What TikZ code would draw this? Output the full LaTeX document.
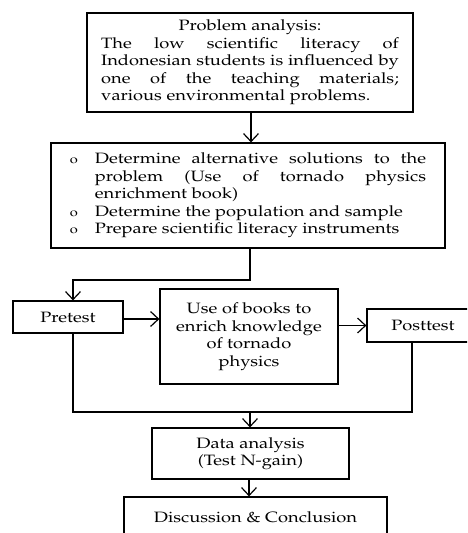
\documentclass[tikz,border=0pt]{standalone}
\usepackage[T1]{fontenc}
\renewcommand{\rmdefault}{ppl}
\usepackage{graphicx}
\usetikzlibrary{arrows.meta,calc}
\newcommand{\fsz}{\fontsize{15}{17.5}\selectfont}
\newcommand{\sx}[1]{\scalebox{1.22}[1]{#1}}
\newcommand{\bitem}[1]{\hangindent=20.5pt\hangafter=1\noindent\makebox[20.5pt][l]{\fontsize{12}{12}\selectfont o}#1\par}
\begin{document}
\begin{tikzpicture}[x=1pt,y=-1pt,line width=1.2pt,
  box/.style={draw,inner sep=0pt,align=center,font=\fsz},
  arr/.style={-{Straight Barb[length=8pt,width=15pt]}}]
\useasboundingbox (0,0) rectangle (467,533);
\clip (0,0) rectangle (467,533);
\node[box,minimum width=326pt,minimum height=99pt] (b1) at (250,62.5)
  {\sx{\parbox{244pt}{\fsz\centerline{Problem analysis:}The low scientific literacy of\linebreak Indonesian students is influenced by\linebreak one of the teaching materials;\linebreak various environmental problems.}}};
\node[box,minimum width=394pt,minimum height=105pt] (b2) at (248,195.5)
  {\sx{\parbox{292pt}{\fsz\bitem{Determine alternative solutions to the\linebreak problem (Use of tornado physics\linebreak enrichment book)}\bitem{Determine the population and sample}\bitem{Prepare scientific literacy instruments}}}};
\node[box,minimum width=110pt,minimum height=32pt] (pre) at (68,317) {\sx{Pretest}};
\node[box,minimum width=178pt,minimum height=95pt] (book) at (249,336.5)
  {\sx{\begin{tabular}{@{}c@{}}Use of books to\\enrich knowledge\\of tornado\\physics\end{tabular}}};
\node[box,minimum width=112pt,minimum height=33pt] (post) at (423,325.5) {\sx{Posttest}};
\node[box,minimum width=197pt,minimum height=51pt] (data) at (250.5,453.5)
  {\sx{\begin{tabular}{@{}c@{}}Data analysis\\(Test N-gain)\end{tabular}}};
\node[box,minimum width=263pt,minimum height=40pt] (disc) at (255.5,517) {\sx{Discussion \& Conclusion}};
\coordinate (j1) at (250,280);
\coordinate (j2) at (250,412);
\draw[arr] ([xshift=1pt]b1.south) -- ([xshift=1pt]b1.south |- b2.north);
\draw[arr] (b2.south -| j1) -- (j1) -| ([xshift=5pt]pre.north);
\draw[arr] ([yshift=-2pt]pre.east) -- ([yshift=-2pt]pre.east -| book.west);
\draw[arr] (book.east |- post.west) -- (post.west);
\draw ([xshift=5pt]pre.south) |- (j2) -| ([xshift=-11pt]post.south);
\draw[arr] (j2) -- (j2 |- data.north);
\draw[arr] ([xshift=-1.5pt]data.south) -- ([xshift=-1.5pt]data.south |- disc.north);
\end{tikzpicture}
\end{document}
